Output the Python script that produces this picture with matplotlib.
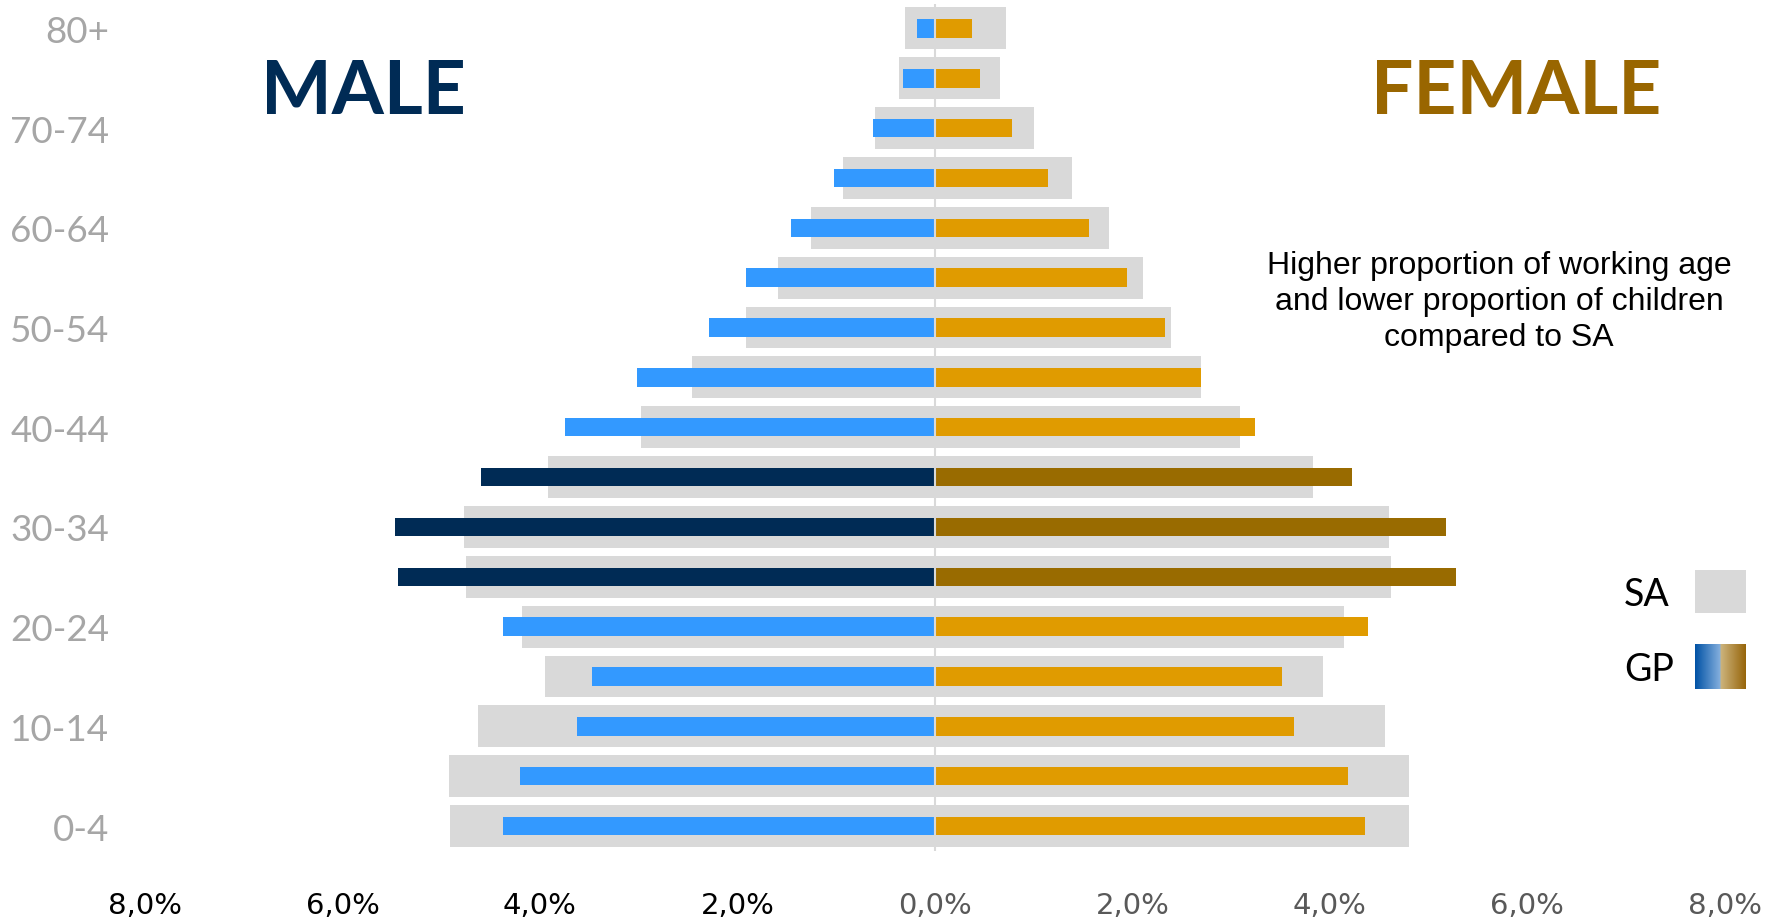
import numpy as np
import matplotlib
matplotlib.use("Agg")
import matplotlib.pyplot as plt
from matplotlib.colors import LinearSegmentedColormap

age_groups = ["0-4", "5-9", "10-14", "15-19", "20-24", "25-29", "30-34", "35-39",
              "40-44", "45-49", "50-54", "55-59", "60-64", "65-69", "70-74", "75-79", "80+"]
gp_male = [4.37, 4.20, 3.62, 3.47, 4.37, 5.44, 5.47, 4.60, 3.75, 3.02, 2.29, 1.91,
           1.46, 1.02, 0.63, 0.32, 0.18]
gp_female = [4.36, 4.18, 3.64, 3.52, 4.39, 5.28, 5.18, 4.22, 3.24, 2.70, 2.33, 1.95,
             1.56, 1.15, 0.78, 0.46, 0.38]
sa_male = [4.91, 4.92, 4.63, 3.95, 4.18, 4.75, 4.77, 3.92, 2.98, 2.46, 1.91, 1.59,
           1.25, 0.93, 0.61, 0.36, 0.30]
sa_female = [4.80, 4.80, 4.56, 3.93, 4.14, 4.62, 4.60, 3.83, 3.09, 2.70, 2.39, 2.11,
             1.76, 1.39, 1.00, 0.66, 0.72]
highlight = ["25-29", "30-34", "35-39"]
xticks = [-8, -6, -4, -2, 0, 2, 4, 6, 8]
xtick_labels = ["8,0%", "6,0%", "4,0%", "2,0%", "0,0%", "2,0%", "4,0%", "6,0%", "8,0%"]
shown_labels = ["0-4", "10-14", "20-24", "30-34", "40-44", "50-54", "60-64", "70-74", "80+"]

C_SA = "#D9D9D9"
C_M, C_M_DARK = "#3399FF", "#002B55"
C_F, C_F_DARK = "#E09B00", "#996B00"

fig = plt.figure(figsize=(17.81, 9.2), dpi=100)
ax = fig.add_axes([0.0814, 0.0739, 0.887, 0.9212])

y = np.arange(len(age_groups))
m_cols = [C_M_DARK if a in highlight else C_M for a in age_groups]
f_cols = [C_F_DARK if a in highlight else C_F for a in age_groups]

ax.barh(y, [-v for v in sa_male], height=0.84, color=C_SA, zorder=1)
ax.barh(y, sa_female, height=0.84, color=C_SA, zorder=1)
ax.barh(y, [-v for v in gp_male], height=0.37, color=m_cols, zorder=2)
ax.barh(y, gp_female, height=0.37, color=f_cols, zorder=2)
ax.axvline(0, color="#D9D9D9", lw=1.5, zorder=3)

ax.set_xlim(-8, 8)
ax.set_ylim(-0.5, 16.5)
for s in ax.spines.values():
    s.set_visible(False)

ax.set_xticks(xticks)
ax.set_xticklabels(xtick_labels)
ax.tick_params(axis="x", length=0, pad=29, labelsize=21)
for t, v in zip(ax.get_xticklabels(), xticks):
    t.set_color("#000000" if v < 0 else "#595959")
    t.set_fontfamily("DejaVu Sans")

ypos = [age_groups.index(a) for a in shown_labels]
ax.set_yticks(ypos)
ax.set_yticklabels(shown_labels)
ax.tick_params(axis="y", length=0, pad=26, labelsize=26.5, labelcolor="#A6A6A6")
for t in ax.get_yticklabels():
    t.set_fontfamily("Lato")

fig.text(363 / 1781, 1 - 93 / 920, "MALE", color="#002B55", fontsize=54,
         fontweight="bold", family="Lato", ha="center", va="center")
fig.text(1516 / 1781, 1 - 93 / 920, "FEMALE", color="#996600", fontsize=54,
         fontweight="bold", family="Lato", ha="center", va="center")
fig.text(1499 / 1781, 1 - 302 / 920,
         "Higher proportion of working age\nand lower proportion of children\ncompared to SA",
         color="#000000", fontsize=23, family="Liberation Sans", ha="center",
         va="center", linespacing=1.27)

# legend
fig.text(1647 / 1781, 1 - 595 / 920, "SA", fontsize=27, family="Lato",
         ha="center", va="center", color="#000000")
fig.text(1649 / 1781, 1 - 670 / 920, "GP", fontsize=27, family="Lato",
         ha="center", va="center", color="#000000")
lax1 = fig.add_axes([1695 / 1781, 1 - 614 / 920, 51 / 1781, 43 / 920])
lax1.set_facecolor(C_SA)
lax1.set_xticks([]); lax1.set_yticks([])
for s in lax1.spines.values():
    s.set_visible(False)
lax2 = fig.add_axes([1695 / 1781, 1 - 690 / 920, 51 / 1781, 45 / 920])
cmap = LinearSegmentedColormap.from_list(
    "gp", [(0.0, "#0052A5"), (0.5, "#86B0DE"), (0.5001, "#CDB57F"), (1.0, "#97650A")])
grad = np.linspace(0, 1, 256).reshape(1, -1)
lax2.imshow(grad, aspect="auto", cmap=cmap, extent=[0, 1, 0, 1])
lax2.set_xticks([]); lax2.set_yticks([])
for s in lax2.spines.values():
    s.set_visible(False)

fig.savefig("out.png", dpi=100)
